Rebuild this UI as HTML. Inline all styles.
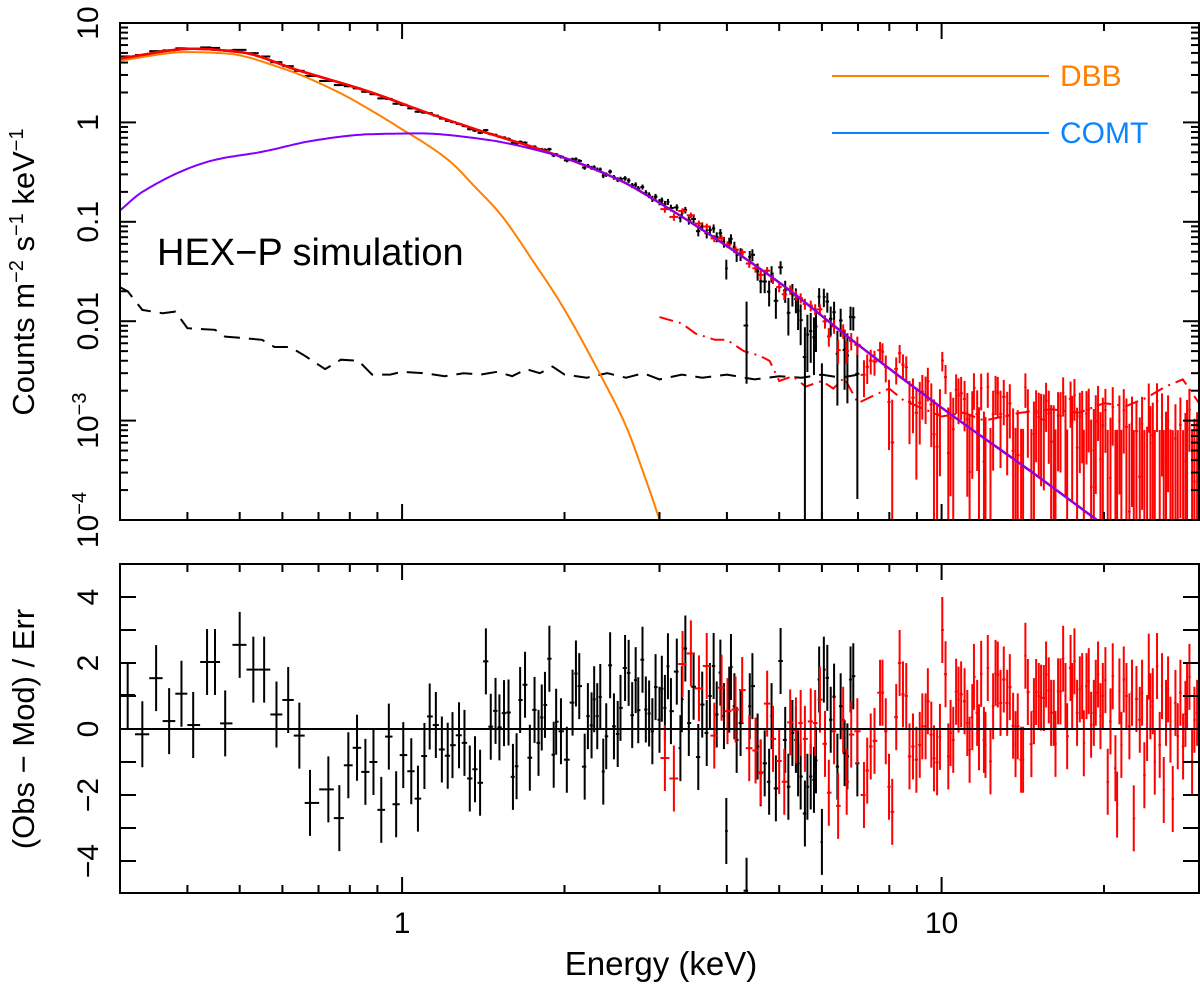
<!DOCTYPE html>
<html>
<head>
<meta charset="utf-8">
<style>
html,body{margin:0;padding:0;background:#fff;}
svg{display:block;font-family:"Liberation Sans",Arial,sans-serif;}
</style>
</head>
<body>
<svg id="chart" width="1200" height="988" viewBox="0 0 1200 988" xmlns="http://www.w3.org/2000/svg">
<defs>
<clipPath id="clipTop"><rect x="120" y="23" width="1079" height="497"/></clipPath>
<clipPath id="clipBot"><rect x="120" y="564" width="1079" height="329"/></clipPath>
</defs>
<g id="gTop" clip-path="url(#clipTop)"></g>
<g id="gBot" clip-path="url(#clipBot)"></g>
<g id="gAxes"></g>

<rect x="120" y="23" width="1079" height="497" fill="none" stroke="#000" stroke-width="2"/>
<rect x="120" y="564" width="1079" height="329" fill="none" stroke="#000" stroke-width="2"/>

<g>
  <line x1="832" y1="76" x2="1049" y2="76" stroke="#ff8000" stroke-width="2"/>
  <text x="1060" y="86" font-size="30" fill="#ff8000">DBB</text>
  <line x1="832" y1="133" x2="1049" y2="133" stroke="#0a84ff" stroke-width="2"/>
  <text x="1060" y="143" font-size="30" fill="#0a84ff">COMT</text>
</g>

<text x="157" y="265" font-size="38" fill="#000">HEX−P simulation</text>

<text transform="rotate(-90 34 272)" x="34" y="272" font-size="31" text-anchor="middle">Counts m<tspan font-size="20" dy="-11">−2</tspan><tspan dy="11"> s</tspan><tspan font-size="20" dy="-11">−1</tspan><tspan dy="11"> keV</tspan><tspan font-size="20" dy="-11">−1</tspan></text>
<text transform="rotate(-90 34 729)" x="34" y="729" font-size="31" text-anchor="middle">(Obs − Mod) / Err</text>
<text x="661" y="975" font-size="33" text-anchor="middle">Energy (keV)</text>
</svg>

<script>
// ---------- data ----------
const blackE=[0.31,0.33,0.35,0.37,0.39,0.41,0.435,0.45,0.47,0.50,0.53,0.555,0.585,0.615,0.645,0.675,0.73,0.765,0.795,0.825,0.855,0.885,0.915,0.945,0.975,1.005,1.04,1.07,1.10,1.125,1.155,1.185,1.215,1.24,1.275,1.305,1.335,1.365,1.395,1.43,1.46,1.49,1.515,1.545,1.575,1.605,1.63,1.655,1.69,1.725,1.76,1.79,1.815,1.84,1.875,1.91,1.93,
1.97,2.02,2.07,2.10,2.13,2.18,2.21,2.245,2.27,2.30,2.33,2.36,2.39,2.43,2.47,2.51,2.54,2.59,2.63,2.67,2.71,2.74,2.79,2.83,2.87,2.91,2.95,3.00,3.03,3.07,3.11,3.15,3.23,3.28,3.30,3.35,3.40,3.47,3.54,3.60,3.67,3.72,3.78,3.83,3.89,3.95,3.99,4.04,4.07,4.13,4.17,4.24,4.35,4.41,4.46,4.56,4.62,4.70,4.79,4.84,4.93,5.03,5.13,5.20,5.29,5.37,5.42,5.48,5.58,5.64,5.72,5.80,5.85,5.93,6.00,6.05,6.14,6.23,6.32,6.41,6.50,6.61,6.69,6.78,6.86,6.98];
const blackResid=[1.03,-0.16,1.54,0.24,1.07,0.12,2.03,2.03,0.17,2.55,1.8,1.8,0.44,0.88,-0.2,-2.24,-1.83,-2.7,-1.1,-0.57,-1.3,-1.0,-2.45,-0.23,-2.28,-0.79,-1.28,-2.11,-0.82,0.38,0.12,-0.62,-0.81,-0.49,-0.19,-0.42,-1.5,-1.22,-1.63,2.05,0.07,0.55,0.05,0.48,0.5,-1.45,-1.13,0.88,1.34,-0.87,0.58,-0.42,0.35,0.73,2.13,-0.78,0.22,
-0.07,-0.93,0.80,1.68,1.30,-1.14,0.39,0.11,0.90,0.39,0.97,-1.29,-0.22,1.93,0.08,-0.15,0.64,1.85,1.70,0.42,1.48,0.57,2.10,0.59,0.47,-0.07,1.27,0.28,1.22,0.64,1.90,0.54,1.74,-0.58,0.90,2.44,0.18,1.28,-0.85,0.74,-0.12,1.00,1.91,0.44,1.71,0.39,-3.09,0.89,1.88,0.69,-0.33,0.18,-4.9,0.69,1.30,-0.53,-1.34,-1.04,-1.60,0.39,-1.80,2.06,-0.33,-1.75,-0.12,-0.33,-1.04,-1.44,-2.56,-1.75,-1.44,-1.54,-0.95,1.50,-3.42,1.80,1.55,0.28,0.98,-1.14,0.69,-0.73,-0.83,1.50,1.60,-1.04];
const redE=[3.07,3.19,3.31,3.43,3.55,3.67,3.79,3.91,4.01,4.15,4.27,4.40,4.52,4.62,4.75,4.87,5.00,5.11,5.24,5.37,5.48,5.58,5.72,5.83,5.95,6.08,6.18,6.32,6.43,6.57,6.67,6.80,6.98,7.18,7.28,7.39,7.51,7.69,
7.77,7.88,7.99,8.10,8.24,8.36,8.48,8.60,8.72,8.85,8.98,9.11,9.21,9.34,9.43,9.57,9.68,9.81,9.93,10.03,10.17,10.29,10.39,10.51,10.64,10.75,10.87,11.03,11.16,11.27,11.40,11.48,11.64,11.73,11.84,11.98,12.06,12.18,12.32,12.46,12.59,12.71,12.86,13.04,13.23,13.38,13.57,13.71,13.84,14.04,14.16,14.30,14.45,14.67,14.83,14.97,15.14,15.29,15.47,15.62,15.80,15.96,16.14,16.26,16.44,16.61,16.80,16.97,17.09,17.34,17.46,17.63,17.83,18.04,18.22,18.35,18.56,18.74,18.93,19.15,19.31,19.50,19.70,19.90,20.12,20.32,20.56,20.76,21.00,21.15,21.36,21.54,21.76,22.01,22.29,22.54,22.71,22.97,23.30,23.53,23.76,24.04,24.21,24.38,24.63,24.84,25.08,25.37,25.62,25.81,26.06,26.29,26.56,26.82,27.13,27.40,27.71,28.03,28.31,28.51,28.80,29.13,29.42,29.76];
const redResid=[-0.88,-1.50,1.97,2.29,1.23,1.91,-0.20,1.25,0.54,0.59,1.18,-0.58,-0.65,-1.31,0.77,-0.30,-0.97,-1.60,0.20,-0.04,0.18,-0.30,0.23,0.18,0.89,-0.45,-1.93,-0.07,-2.33,0.28,-1.60,-0.17,-0.07,-2.00,-1.26,-0.53,-0.36,1.10,
1.10,-0.07,-1.75,-2.51,0.36,2.00,1.05,1.00,-0.83,-0.53,-0.93,-0.48,0.08,0.08,0.84,-0.17,-0.89,-1.01,-0.24,3.00,1.66,-0.83,-0.12,-0.33,1.13,0.89,1.05,0.84,0.18,-0.63,0.36,1.58,0.49,-0.25,1.67,-0.33,-0.48,1.85,-0.98,0.69,1.70,1.65,0.79,1.50,0.79,1.27,0.10,-0.46,0.08,-0.93,-0.93,2.22,1.12,-0.46,0.54,1.12,1.00,0.95,0.94,1.65,1.17,0.49,0.49,-0.45,1.14,1.14,2.13,1.00,-0.22,1.85,1.00,2.05,0.49,1.20,1.30,-0.43,1.30,1.45,0.13,0.49,1.10,1.65,0.39,1.00,1.48,-1.60,0.23,1.60,-1.19,-2.29,1.14,-0.48,1.50,1.00,0.08,1.10,-2.71,0.91,0.28,1.10,-1.40,0.03,1.89,0.69,0.84,-0.99,1.91,-0.48,1.30,-1.85,0.49,1.20,-0.02,-2.12,0.79,-0.22,1.10,-0.53,0.46,0.99,1.58,-0.98,0.28,0.49];
const totalE=[0.3,0.41,0.5,0.64,0.87,1.1,1.38,1.87,2.54,3,4,5,7,10,15,20,30];
const totalV=[4.4,5.5,5.1,3.36,2.03,1.28,0.84,0.5,0.26,0.155,0.057,0.0245,0.0058,0.00135,0.00028,0.0000885,0.0000175];
const comtE=[0.3,0.33,0.45,0.55,0.69,0.87,1.08,1.38,1.87,2.54,3,4,5,7,10,15,20,30];
const comtV=[0.13,0.2,0.42,0.506,0.66,0.76,0.775,0.69,0.49,0.26,0.155,0.057,0.0245,0.0058,0.00135,0.00028,0.0000885,0.0000175];
const dbbE=[0.3,0.4,0.47,0.6,0.75,0.94,1.0,1.1,1.23,1.37,1.52,1.75,1.97,2.33,2.6,2.8,3.0,3.2];
const dbbV=[4.2,5.1,4.95,3.5,2.1,1.05,0.85,0.62,0.4,0.22,0.12,0.04,0.015,0.0029,0.00088,0.0003,0.0001,0.00003];
const bkgBlackE=[0.3,0.31,0.33,0.36,0.38,0.40,0.43,0.45,0.47,0.5,0.55,0.58,0.62,0.66,0.72,0.77,0.83,0.88,0.95,1.0,1.1,1.2,1.3,1.4,1.5,1.6,1.7,1.8,1.9,2.0,2.2,2.4,2.6,2.8,3.0,3.3,3.6,4,4.5,5,5.5,6,6.5,7];
const bkgBlackV=[0.022,0.02,0.013,0.012,0.0125,0.0085,0.0083,0.0082,0.007,0.0068,0.0065,0.0055,0.0055,0.0045,0.0033,0.0041,0.004,0.0029,0.0029,0.0031,0.003,0.0028,0.003,0.0029,0.0031,0.0028,0.0033,0.003,0.0035,0.0029,0.0027,0.003,0.0027,0.003,0.0026,0.0029,0.0027,0.0029,0.0026,0.0028,0.0027,0.0029,0.0027,0.0029];
const bkgRedE=[3.0,3.3,3.5,3.8,4.0,4.3,4.6,4.8,5.0,5.3,5.6,6.0,6.3,6.6,7.0,7.5,8,8.5,9,10,11,12,13,14,16,18,20,22,24,26,28,30];
const bkgRedV=[0.011,0.0095,0.0075,0.0065,0.0065,0.005,0.0045,0.004,0.0025,0.0028,0.0022,0.0025,0.0021,0.0027,0.0015,0.0018,0.0021,0.0016,0.0014,0.0011,0.0012,0.001,0.0011,0.0012,0.0013,0.0012,0.0015,0.0014,0.0017,0.0022,0.0026,0.0015];
const xTickLabels=[1,10];
const yTopTickLabels=[10,1,0.1,0.01,0.001,0.0001];
const yBotTickLabels=[-4,-2,0,2,4];

// ---------- axes ----------
const X0=120,X1=1199,EMIN=0.3,EMAX=30;
const TOP0=23,DEC=99.4,ZERO=729,UNIT=33;
function xs(e){return X0+(Math.log10(e)-Math.log10(EMIN))/(Math.log10(EMAX)-Math.log10(EMIN))*(X1-X0);}
function yT(v){return TOP0+(1-Math.log10(v))*DEC;}
function yB(r){return ZERO-r*UNIT;}
// shape-preserving (Fritsch-Carlson) cubic interpolation in log-log space
function interp(E,V,e){
  const n=E.length;const lx=E.map(Math.log10),ly=V.map(Math.log10);const le=Math.log10(e);
  if(le<=lx[0])return V[0];
  if(le>=lx[n-1])return V[n-1];
  const h=[],d=[];
  for(let k=0;k<n-1;k++){h.push(lx[k+1]-lx[k]);d.push((ly[k+1]-ly[k])/h[k]);}
  function tan(k){
    if(k===0)return d[0];
    if(k===n-1)return d[n-2];
    const a=d[k-1],b=d[k];
    if(a*b<=0)return 0;
    const w1=2*h[k]+h[k-1],w2=h[k]+2*h[k-1];
    return (w1+w2)/(w1/a+w2/b);
  }
  let i=1;while(le>lx[i])i++;
  const x0=lx[i-1],y0=ly[i-1],y1=ly[i],hh=h[i-1];
  const m0=tan(i-1),m1=tan(i);
  const t=(le-x0)/hh,t2=t*t,t3=t2*t;
  const y=(2*t3-3*t2+1)*y0+(t3-2*t2+t)*hh*m0+(-2*t3+3*t2)*y1+(t3-t2)*hh*m1;
  return Math.pow(10,y);
}
const NS="http://www.w3.org/2000/svg";
function mk(tag,parent,attrs){const el=document.createElementNS(NS,tag);for(const k in attrs)el.setAttribute(k,attrs[k]);parent.appendChild(el);return el;}
const gTop=document.getElementById('gTop'),gBot=document.getElementById('gBot'),gAx=document.getElementById('gAxes');

function curvePath(E,V,lo,hi){
  let d='';const n=300;
  for(let i=0;i<=n;i++){const le=Math.log10(lo)+(Math.log10(hi)-Math.log10(lo))*i/n;const e=Math.pow(10,le);
    const v=interp(E,V,e);d+=(i?'L':'M')+xs(e).toFixed(1)+' '+yT(v).toFixed(1);}
  return d;
}
function polyPath(E,V){let d='';for(let i=0;i<E.length;i++)d+=(i?'L':'M')+xs(E[i]).toFixed(1)+' '+yT(V[i]).toFixed(1);return d;}

let p=mk('path',gTop,{d:polyPath(bkgBlackE,bkgBlackV),fill:'none',stroke:'#000','stroke-width':2,'stroke-dasharray':'16 9'});


p=mk('path',gTop,{d:polyPath(bkgRedE,bkgRedV),fill:'none',stroke:'#ff0000','stroke-width':2,'stroke-dasharray':'14 6 2 6'});



function halfW(E,i){
  const le=Math.log10(E[i]);
  const prev=i>0?Math.log10(E[i-1]):le-(Math.log10(E[i+1])-le);
  const next=i<E.length-1?Math.log10(E[i+1]):le+(le-prev);
  return [Math.pow(10,(prev+le)/2),Math.pow(10,(le+next)/2)];
}
function drawSet(E,R,color,errFn,name){
  const n=Math.min(E.length,R.length);
  const gt=mk('g',gTop,{stroke:color,'stroke-width':2});
  
  
  const gb=mk('g',gBot,{stroke:color,'stroke-width':2});
  
  
  for(let i=0;i<n;i++){
    const e=E[i],r=R[i];const hw=halfW(E,i);
    const m=interp(totalE,totalV,e);const err=errFn(e,m);
    const f=Math.max(m+r*err,1e-6);
    const hi=f+err,lo=f-err;
    const x=xs(e);
    const yLo=lo>0?yT(lo):600;
    let l=mk('line',gt,{x1:x,x2:x,y1:yT(hi),y2:yLo});
    
    
    l=mk('line',gt,{x1:xs(hw[0]),x2:xs(hw[1]),y1:yT(f),y2:yT(f)});
    
    
    l=mk('line',gb,{x1:x,x2:x,y1:yB(r+1),y2:yB(r-1)});
    
    
    l=mk('line',gb,{x1:xs(hw[0]),x2:xs(hw[1]),y1:yB(r),y2:yB(r)});
    
    
  }
}
drawSet(blackE,blackResid,'#000',function(e,m){return m*(0.02+0.14*Math.pow(e/4.35,2.5));},'let');
drawSet(redE,redResid,'#ff0000',function(e,m){return 0.07*m+0.0008;},'het');

p=mk('path',gTop,{d:curvePath(totalE,totalV,0.3,30),fill:'none',stroke:'#ff0000','stroke-width':2.5});


p=mk('path',gTop,{d:curvePath(dbbE,dbbV,0.3,3.2),fill:'none',stroke:'#ff8000','stroke-width':2});


p=mk('path',gTop,{d:curvePath(totalE,totalV,0.3,1.0),fill:'none',stroke:'#ff0000','stroke-width':2.5});


p=mk('path',gTop,{d:curvePath(comtE,comtV,0.3,30),fill:'none',stroke:'#8000ff','stroke-width':2});



let z=mk('line',gBot,{x1:X0,x2:X1,y1:yB(0),y2:yB(0),stroke:'#000','stroke-width':2});



function tick(x1,y1,x2,y2,name){const t=mk('line',gAx,{x1:x1,y1:y1,x2:x2,y2:y2,stroke:'#000','stroke-width':2});
  
  }
const xt=[];
for(const dec of [0.1,1,10])for(let k=1;k<10;k++){const e=k*dec;if(e>=EMIN-1e-9&&e<=EMAX+1e-9)xt.push(e);}
for(const e of xt){
  const x=xs(e);const major=(Math.abs(Math.log10(e)-Math.round(Math.log10(e)))<1e-9);const L=major?16:8;
  for(const pan of [[23,520],[564,893]]){
    tick(x,pan[1],x,pan[1]-L,'x-tick');
    tick(x,pan[0],x,pan[0]+L,'x-tick');
  }
}
for(let d=-4;d<=1;d++)for(let k=1;k<10;k++){
  const v=k*Math.pow(10,d);if(v<1e-4*0.999||v>10.001)continue;const y=yT(v);const L=k===1?16:8;
  tick(X0,y,X0+L,y,'y-tick-spectrum');
  tick(X1,y,X1-L,y,'y-tick-spectrum');
}
for(let r=-4;r<=4;r++){const y=yB(r);tick(X0,y,X0+16,y,'y-tick-residual');tick(X1,y,X1-16,y,'y-tick-residual');}

for(const e of xTickLabels){
  const t=mk('text',gAx,{x:xs(e),y:933,'font-size':30,'text-anchor':'middle'});
  t.textContent=String(e);
  
  
}
for(const v of yTopTickLabels){
  const y=yT(v);
  const t=mk('text',gAx,{x:98,y:y,'font-size':30,'text-anchor':'middle',transform:'rotate(-90 98 '+y+')'});
  
  
  if(v>=0.01){t.textContent=String(v);}
  else{t.textContent='10';const s=mk('tspan',t,{'font-size':20,dy:-12});s.textContent='−'+Math.round(-Math.log10(v));}
}
for(const r of yBotTickLabels){
  const y=yB(r);
  const t=mk('text',gAx,{x:98,y:y,'font-size':30,'text-anchor':'middle',transform:'rotate(-90 98 '+y+')'});
  t.textContent=(r<0?'−':'')+Math.abs(r);
  
  
}
</script>
</body>
</html>
